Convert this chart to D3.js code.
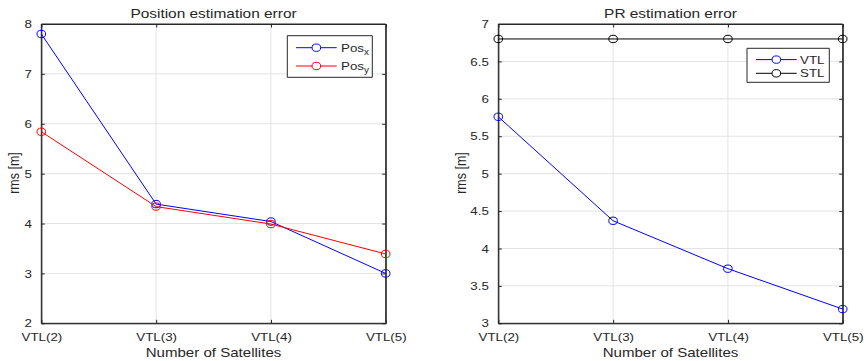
<!DOCTYPE html>
<html>
<head>
<meta charset="utf-8">
<script src="https://cdn.jsdelivr.net/npm/d3@7"></script>
<style>
  body { margin: 0; background: #fff; }
  svg { display: block; }
  text { font-family: "Liberation Sans", Arial, sans-serif; fill: #262626; }
  line, path, rect, circle { vector-effect: non-scaling-stroke; }
</style>
</head>
<body>
<svg id="chart"></svg>
<script>
// data
const categories = ["VTL(2)", "VTL(3)", "VTL(4)", "VTL(5)"];
const posX = [7.8, 4.39, 4.04, 3.0];
const posY = [5.84, 4.34, 3.99, 3.39];
const prVTL = [5.76, 4.37, 3.73, 3.19];
const prSTL = [6.8, 6.8, 6.8, 6.8];
const leftTicks = [2, 3, 4, 5, 6, 7, 8];
const rightTicks = [3, 3.5, 4, 4.5, 5, 5.5, 6, 6.5, 7];

// the reference is stretched horizontally, draw in a narrower viewBox
const sx = 1.16;
const W = 867, H = 361;
const VW = W / sx;

const svg = d3.select("#chart")
  .attr("width", W).attr("height", H)
  .attr("viewBox", `0 0 ${VW} ${H}`)
  .attr("preserveAspectRatio", "none");

const axisColor = "#262626";
const gridColor = "#e3e3e3";

function drawPanel(opt) {
  const x = d3.scalePoint().domain(categories).range([opt.x0, opt.x1]);
  const y = d3.scaleLinear().domain(opt.yDomain).range([323.3, 24]);
  const g = svg.append("g");

  // grid
  g.append("g").selectAll("line").data(categories.slice(1, -1)).enter().append("line")
    .attr("x1", d => x(d)).attr("x2", d => x(d))
    .attr("y1", y.range()[1]).attr("y2", y.range()[0])
    .attr("stroke", gridColor).attr("stroke-width", 1);
  g.append("g").selectAll("line").data(opt.ticks.slice(1, -1)).enter().append("line")
    .attr("x1", opt.x0).attr("x2", opt.x1)
    .attr("y1", d => y(d)).attr("y2", d => y(d))
    .attr("stroke", gridColor).attr("stroke-width", 1);

  // axes (ticks inward)
  const tl = 3.5;
  const ax = d3.axisBottom(x).tickSizeInner(-tl).tickSizeOuter(0).tickPadding(10);
  const gx = g.append("g").attr("transform", `translate(0,${y.range()[0]})`).call(ax);
  gx.selectAll("text").attr("font-size", 11.5).attr("fill", axisColor);
  g.append("g").attr("transform", `translate(0,${y.range()[1]})`)
    .call(d3.axisTop(x).tickSizeInner(-tl).tickSizeOuter(0).tickFormat(""));

  const ay = d3.axisLeft(y).tickValues(opt.ticks).tickSizeInner(-tl / sx).tickSizeOuter(0)
    .tickPadding(6 / sx + tl / sx).tickFormat(d3.format("~g"));
  const gy = g.append("g").attr("transform", `translate(${opt.x0},0)`).call(ay);
  gy.selectAll("text").attr("font-size", 11.5).attr("fill", axisColor);
  g.append("g").attr("transform", `translate(${opt.x1},0)`)
    .call(d3.axisRight(y).tickValues(opt.ticks).tickSizeInner(-tl / sx).tickSizeOuter(0).tickFormat(""));

  g.selectAll(".domain, .tick line").attr("stroke", axisColor);

  // box
  g.append("rect")
    .attr("x", opt.x0).attr("y", y.range()[1])
    .attr("width", opt.x1 - opt.x0).attr("height", y.range()[0] - y.range()[1])
    .attr("fill", "none").attr("stroke", axisColor).attr("stroke-width", 1);

  // series
  const line = d3.line().x((d, i) => x(categories[i])).y(d => y(d));
  opt.series.forEach(s => {
    g.append("path").datum(s.values)
      .attr("d", line).attr("fill", "none")
      .attr("stroke", s.color).attr("stroke-width", 1);
    g.append("g").selectAll("circle").data(s.values).enter().append("circle")
      .attr("cx", (d, i) => x(categories[i])).attr("cy", d => y(d))
      .attr("r", 3.7).attr("fill", "none")
      .attr("stroke", s.color).attr("stroke-width", 1);
  });

  // titles
  const cx = (opt.x0 + opt.x1) / 2;
  g.append("text").attr("x", cx).attr("y", 18.5).attr("text-anchor", "middle")
    .attr("font-size", 13.3).text(opt.title);
  g.append("text").attr("x", cx).attr("y", 357.5).attr("text-anchor", "middle")
    .attr("font-size", 13).text("Number of Satellites");
  g.append("text")
    .attr("transform", `translate(${opt.ylabX},173) rotate(-90)`)
    .attr("text-anchor", "middle").attr("font-size", 12.5).text("rms [m]");

  // legend
  const L = opt.legend;
  g.append("rect").attr("x", L.x).attr("y", L.y).attr("width", L.w).attr("height", L.h)
    .attr("fill", "#fff").attr("stroke", axisColor).attr("stroke-width", 1);
  opt.series.forEach((s, i) => {
    const ly = L.rows[i];
    g.append("line").attr("x1", L.lx0).attr("x2", L.lx1).attr("y1", ly).attr("y2", ly)
      .attr("stroke", s.color).attr("stroke-width", 1);
    g.append("circle").attr("cx", (L.lx0 + L.lx1) / 2).attr("cy", ly).attr("r", 3.7)
      .attr("fill", "#fff").attr("stroke", s.color).attr("stroke-width", 1);
    const t = g.append("text").attr("x", L.tx).attr("y", ly + 4).attr("font-size", 11.5);
    t.append("tspan").text(s.name);
    if (s.sub) {
      t.append("tspan").attr("font-size", 8.5).attr("dy", 3.5).text(s.sub);
    }
  });
}

drawPanel({
  x0: 41.3 / sx, x1: 385.7 / sx,
  yDomain: [2, 8], ticks: leftTicks,
  title: "Position estimation error",
  ylabX: 19 / sx,
  series: [
    { name: "Pos", sub: "x", values: posX, color: "#0000ff" },
    { name: "Pos", sub: "y", values: posY, color: "#ff0000" }
  ],
  legend: { x: 287.3 / sx, y: 35.7, w: 85 / sx, h: 41.6,
            lx0: 296 / sx, lx1: 336.7 / sx, tx: 341 / sx, rows: [47.7, 66] }
});

drawPanel({
  x0: 498.3 / sx, x1: 842.7 / sx,
  yDomain: [3, 7], ticks: rightTicks,
  title: "PR estimation error",
  ylabX: 466 / sx,
  series: [
    { name: "VTL", values: prVTL, color: "#0000ff" },
    { name: "STL", values: prSTL, color: "#000000" }
  ],
  legend: { x: 747 / sx, y: 48.3, w: 82.3 / sx, h: 34,
            lx0: 756 / sx, lx1: 796.7 / sx, tx: 800 / sx, rows: [59.6, 73.3] }
});
</script>
</body>
</html>
